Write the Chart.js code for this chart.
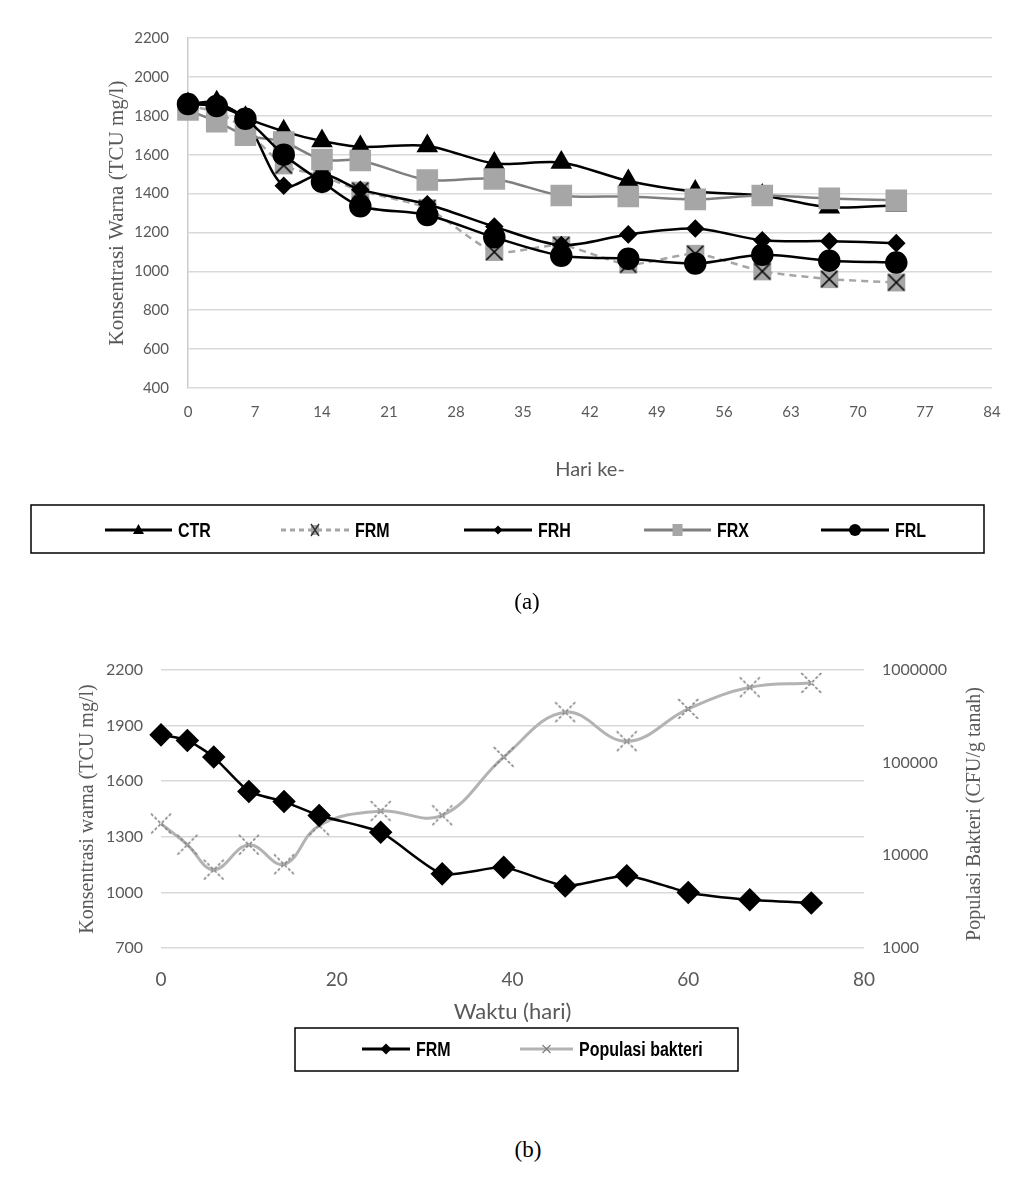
<!DOCTYPE html>
<html>
<head>
<meta charset="utf-8">
<script src="https://cdn.jsdelivr.net/npm/chart.js@4.4.1/dist/chart.umd.min.js"></script>
<style>
body{margin:0;background:#fff;width:1015px;height:1183px;position:relative;overflow:hidden}
canvas{position:absolute;left:0}
.cap{position:absolute;font-family:"Liberation Serif",serif;font-size:23px;line-height:26px;color:#000;width:60px;text-align:center}
</style>
</head>
<body>
<canvas id="chartA" width="1015" height="580" style="top:0"></canvas>
<canvas id="chartB" width="1015" height="480" style="top:600px"></canvas>
<div class="cap" style="left:497px;top:589px">(a)</div>
<div class="cap" style="left:498px;top:1137px">(b)</div>
<script>
// data (a) dan (b)
const hari = [0, 3, 6, 10, 14, 18, 25, 32, 39, 46, 53, 60, 67, 74]
const ctr = [1860, 1870, 1790, 1720, 1670, 1640, 1645, 1555, 1560, 1465, 1410, 1390, 1330, 1340]
const frm = [1850, 1820, 1730, 1545, 1490, 1415, 1325, 1100, 1135, 1035, 1090, 1000, 960, 943]
const frh = [1860, 1865, 1780, 1440, 1500, 1420, 1345, 1230, 1135, 1190, 1220, 1160, 1155, 1145]
const frx = [1830, 1770, 1700, 1665, 1575, 1570, 1470, 1475, 1390, 1385, 1370, 1390, 1375, 1365]
const frl = [1860, 1850, 1785, 1600, 1460, 1335, 1290, 1175, 1080, 1065, 1040, 1085, 1055, 1045]
const populasi = [22000, 13000, 7000, 13000, 8000, 21000, 30000, 27000, 115000, 350000, 170000, 380000, 650000, 725000]
const logTicks = [1000, 10000, 100000, 1000000]

const abu = '#595959'
const garisGrid = '#d9d9d9'

let titik = (arr) => hari.map((h, i) => ({x: h, y: arr[i]}))
let polos = v => String(v)

// marker FRM: kotak abu dengan silang hitam
let tandaFrm = () => {
    let c = document.createElement('canvas')
    c.width = 20; c.height = 20
    let g = c.getContext('2d')
    g.fillStyle = '#a6a6a6'
    g.fillRect(1, 1, 18, 18)
    g.strokeStyle = '#000'
    g.lineWidth = 1.6
    g.beginPath()
    g.moveTo(2, 2); g.lineTo(18, 18)
    g.moveTo(18, 2); g.lineTo(2, 18)
    g.stroke()
    return c
}

// marker populasi: silang putus-putus
let tandaPop = () => {
    let c = document.createElement('canvas')
    c.width = 26; c.height = 26
    let g = c.getContext('2d')
    g.strokeStyle = '#808080'
    g.lineWidth = 1.6
    g.setLineDash([3, 2])
    g.beginPath()
    g.moveTo(3, 3); g.lineTo(23, 23)
    g.moveTo(23, 3); g.lineTo(3, 23)
    g.stroke()
    return c
}

let gambarTanda = (ctx, jenis, x, y) => {
    ctx.save()
    ctx.setLineDash([])
    ctx.beginPath()
    if (jenis == 'segitiga') {
        ctx.fillStyle = '#000'
        ctx.moveTo(x, y - 6); ctx.lineTo(x + 5.5, y + 4); ctx.lineTo(x - 5.5, y + 4)
        ctx.closePath(); ctx.fill()
    } else if (jenis == 'silang') {
        ctx.fillStyle = '#a6a6a6'
        ctx.fillRect(x - 4, y - 5, 8, 10)
        ctx.strokeStyle = '#333'; ctx.lineWidth = 1.4
        ctx.moveTo(x - 4, y - 6); ctx.lineTo(x + 4, y + 6)
        ctx.moveTo(x + 4, y - 6); ctx.lineTo(x - 4, y + 6)
        ctx.stroke()
    } else if (jenis == 'belah') {
        ctx.fillStyle = '#000'
        ctx.moveTo(x, y - 4.5); ctx.lineTo(x + 4.5, y); ctx.lineTo(x, y + 4.5); ctx.lineTo(x - 4.5, y)
        ctx.closePath(); ctx.fill()
    } else if (jenis == 'belahBesar') {
        ctx.fillStyle = '#000'
        ctx.moveTo(x, y - 5.5); ctx.lineTo(x + 5.5, y); ctx.lineTo(x, y + 5.5); ctx.lineTo(x - 5.5, y)
        ctx.closePath(); ctx.fill()
    } else if (jenis == 'kotak') {
        ctx.fillStyle = '#a6a6a6'
        ctx.fillRect(x - 5, y - 6, 10, 12)
    } else if (jenis == 'bulat') {
        ctx.fillStyle = '#000'
        ctx.arc(x, y, 6, 0, Math.PI * 2); ctx.fill()
    } else if (jenis == 'silangAbu') {
        ctx.strokeStyle = '#808080'; ctx.lineWidth = 1.3
        ctx.moveTo(x - 4, y - 4); ctx.lineTo(x + 4, y + 4)
        ctx.moveTo(x + 4, y - 4); ctx.lineTo(x - 4, y + 4)
        ctx.stroke()
    }
    ctx.restore()
}

// legenda dengan kotak hitam
const legendKotak = {
    id: 'legendKotak',
    afterDraw(chart, args, opts) {
        let ctx = chart.ctx
        ctx.save()
        ctx.strokeStyle = '#000'
        ctx.lineWidth = 1.5
        ctx.strokeRect(opts.box[0], opts.box[1], opts.box[2], opts.box[3])
        opts.items.forEach((it, i) => {
            let ds = chart.data.datasets[i]
            ctx.beginPath()
            ctx.strokeStyle = ds.borderColor
            ctx.lineWidth = 3
            ctx.setLineDash(ds.borderDash ? [5, 4] : [])
            ctx.moveTo(it[0], opts.y); ctx.lineTo(it[1], opts.y)
            ctx.stroke()
            gambarTanda(ctx, ds.tanda, (it[0] + it[1]) / 2, opts.y)
            // teks tebal dipersempit
            ctx.save()
            ctx.translate(it[1] + 6, opts.y + 1)
            ctx.scale(0.8, 1)
            ctx.fillStyle = '#000'
            ctx.font = 'bold 20px "Liberation Sans", sans-serif'
            ctx.textBaseline = 'middle'
            ctx.fillText(ds.label, 0, 0)
            ctx.restore()
        })
        if (opts.judulKanan) {
            ctx.fillStyle = abu
            ctx.font = '20px "Liberation Serif", serif'
            ctx.textAlign = 'center'
            ctx.textBaseline = 'middle'
            ctx.translate(opts.judulKanan[0], opts.judulKanan[1])
            ctx.rotate(-Math.PI / 2)
            ctx.fillText(opts.judulKanan[2], 0, 0)
        }
        ctx.restore()
    }
}

var chartA = new Chart(document.getElementById('chartA'), {
    type: 'line',
    data: {
        datasets: [
            {label: 'CTR', data: titik(ctr), tanda: 'segitiga', borderColor: '#000', borderWidth: 2.5, tension: 0.3,
             pointStyle: 'triangle', pointRadius: 10, pointBackgroundColor: '#000', pointBorderColor: '#000', order: 5, clip: false},
            {label: 'FRM', data: titik(frm), tanda: 'silang', borderColor: '#a6a6a6', borderWidth: 2.5, borderDash: [7, 5], tension: 0.2,
             pointStyle: tandaFrm(), order: 4, clip: false},
            {label: 'FRH', data: titik(frh), tanda: 'belah', borderColor: '#000', borderWidth: 2.5, tension: 0.3,
             pointStyle: 'rectRot', pointRadius: 7.5, pointBackgroundColor: '#000', pointBorderColor: '#000', order: 3, clip: false},
            {label: 'FRX', data: titik(frx), tanda: 'kotak', borderColor: '#7f7f7f', borderWidth: 2.5, tension: 0.3,
             pointStyle: 'rect', pointRadius: 13.5, pointBackgroundColor: '#a6a6a6', pointBorderColor: '#a6a6a6', order: 2, clip: false},
            {label: 'FRL', data: titik(frl), tanda: 'bulat', borderColor: '#000', borderWidth: 2.5, tension: 0.3,
             pointStyle: 'circle', pointRadius: 10, pointBackgroundColor: '#000', pointBorderColor: '#000', order: 1, clip: false}
        ]
    },
    options: {
        responsive: false,
        animation: false,
        events: [],
        layout: {padding: {left: 0, right: 23, top: 38, bottom: 92}},
        plugins: {
            legend: {display: false},
            tooltip: {enabled: false},
            legendKotak: {
                box: [31, 505, 953, 48], y: 530,
                items: [[105, 172], [281, 349], [464, 532], [644, 711], [821, 889]]
            }
        },
        scales: {
            x: {
                type: 'linear', min: 0, max: 84,
                ticks: {stepSize: 7, color: abu, font: {family: 'Lato', size: 15}, padding: 7, callback: polos},
                grid: {display: false}, border: {display: false},
                title: {display: true, text: 'Hari ke-', color: abu, font: {family: 'Lato', size: 20}, padding: {top: 0, bottom: 6}},
                afterFit: s => { s.height = 100 }
            },
            y: {
                min: 400, max: 2200,
                ticks: {stepSize: 200, color: abu, font: {family: 'Lato', size: 15}, padding: 19, callback: polos},
                grid: {color: garisGrid, lineWidth: 1.5, drawTicks: false},
                border: {display: true, color: '#cccccc', width: 1.5},
                title: {display: true, text: 'Konsentrasi Warna (TCU mg/l)', color: abu, font: {family: 'Liberation Serif', size: 21}, padding: {top: 105}},
                afterFit: s => { s.width = 188 }
            }
        }
    },
    plugins: [legendKotak]
})

var chartB = new Chart(document.getElementById('chartB'), {
    type: 'line',
    data: {
        datasets: [
            {label: 'FRM', data: titik(frm), tanda: 'belahBesar', yAxisID: 'y', borderColor: '#000', borderWidth: 2.5, tension: 0.2,
             pointStyle: 'rectRot', pointRadius: 10, pointBackgroundColor: '#000', pointBorderColor: '#000', order: 1, clip: false},
            {label: 'Populasi bakteri', data: titik(populasi), tanda: 'silangAbu', yAxisID: 'y2', borderColor: '#b3b3b3', borderWidth: 3, tension: 0.4,
             pointStyle: tandaPop(), order: 2, clip: false}
        ]
    },
    options: {
        responsive: false,
        animation: false,
        events: [],
        layout: {padding: {left: 0, right: 0, top: 70, bottom: 52}},
        plugins: {
            legend: {display: false},
            tooltip: {enabled: false},
            legendKotak: {
                box: [295, 428, 443, 43], y: 449,
                items: [[362, 410], [520, 573]],
                judulKanan: [975, 214, 'Populasi Bakteri (CFU/g tanah)']
            }
        },
        scales: {
            x: {
                type: 'linear', min: 0, max: 80,
                ticks: {stepSize: 20, color: abu, font: {family: 'Lato', size: 19}, padding: 12, callback: polos},
                grid: {display: false}, border: {display: false},
                title: {display: true, text: 'Waktu (hari)', color: abu, font: {family: 'Lato', size: 22}, padding: {top: 0, bottom: 3}},
                afterFit: s => { s.height = 80 }
            },
            y: {
                position: 'left', min: 700, max: 2200,
                ticks: {stepSize: 300, color: abu, font: {family: 'Lato', size: 16}, padding: 18, callback: polos},
                grid: {color: garisGrid, lineWidth: 1.5, drawTicks: false},
                border: {display: false},
                title: {display: true, text: 'Konsentrasi warna (TCU mg/l)', color: abu, font: {family: 'Liberation Serif', size: 20}, padding: {top: 76}},
                afterFit: s => { s.width = 161 }
            },
            y2: {
                type: 'logarithmic', position: 'right', min: 1000, max: 1000000,
                ticks: {
                    autoSkip: false, color: abu, font: {family: 'Lato', size: 16}, padding: 18,
                    callback: v => logTicks.includes(Math.round(v)) ? String(Math.round(v)) : ''
                },
                grid: {display: false, drawTicks: false}, border: {display: false},
                afterFit: s => { s.width = 151 }
            }
        }
    },
    plugins: [legendKotak]
})
</script>
</body>
</html>
